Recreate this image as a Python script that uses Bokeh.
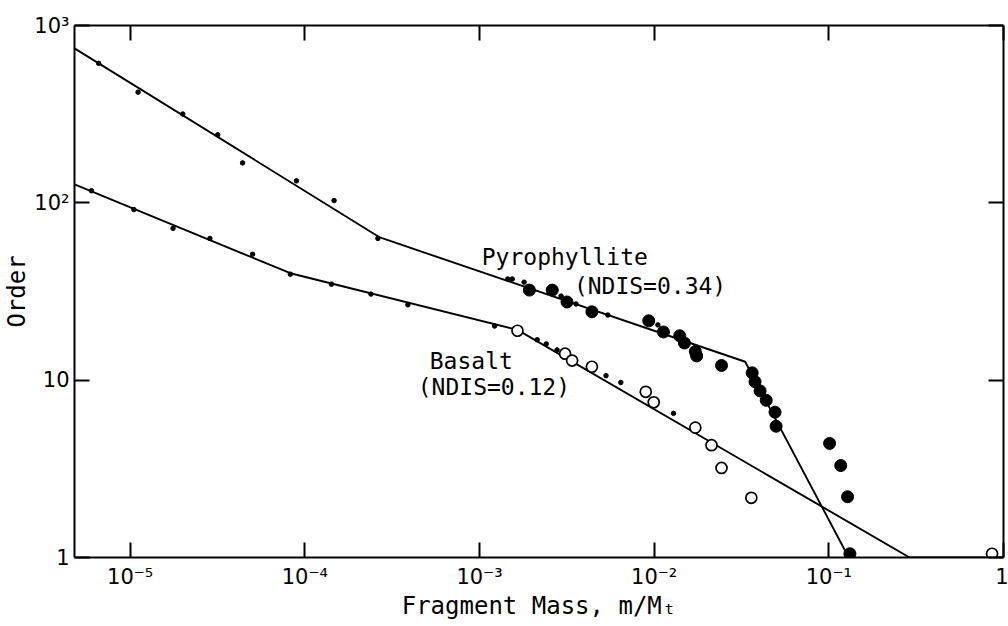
from bokeh.plotting import figure
from bokeh.models import LogAxis, FixedTicker, CustomJSTickFormatter, Label, Range1d
from bokeh.embed import file_html
from bokeh.resources import INLINE

# ---------------- data ----------------
x_ticks = [1e-5, 1e-4, 1e-3, 1e-2, 1e-1, 1.0]
x_tick_labels = ["10⁻⁵", "10⁻⁴", "10⁻³", "10⁻²", "10⁻¹", "1"]
y_ticks = [1, 10, 100, 1000]
y_tick_labels = ["1", "10", "10²", "10³"]

# Pyrophyllite: small dots
pyro_small_x = [6.6e-6, 1.11e-5, 2.0e-5, 3.17e-5, 4.4e-5, 8.95e-5, 1.47e-4, 2.62e-4,
                1.45e-3, 1.54e-3, 1.80e-3, 2.93e-3, 3.57e-3, 5.43e-3, 1.05e-2]
pyro_small_y = [612, 421, 317, 242, 168, 133, 103, 63,
                37.2, 37.2, 35.7, 29.8, 26.9, 23.3, 20.5]
# Pyrophyllite: large filled dots
pyro_big_x = [1.93e-3, 2.61e-3, 3.17e-3, 4.40e-3, 9.31e-3, 1.13e-2, 1.40e-2, 1.49e-2,
              1.72e-2, 1.75e-2, 2.43e-2, 3.64e-2, 3.78e-2, 4.04e-2, 4.38e-2, 4.92e-2,
              4.99e-2, 0.101, 0.117, 0.128, 0.132]
pyro_big_y = [32.2, 32.2, 27.6, 24.3, 21.6, 18.7, 17.8, 16.2,
              14.5, 13.7, 12.1, 11.0, 9.8, 8.7, 7.7, 6.6,
              5.5, 4.4, 3.3, 2.2, 1.05]
# Pyrophyllite fitted broken line
pyro_fit_x = [4.8e-6, 2.69e-4, 3.32e-2, 0.130]
pyro_fit_y = [743, 63.8, 12.7, 1.0]

# Basalt: small dots
bas_small_x = [6.0e-6, 1.05e-5, 1.76e-5, 2.86e-5, 5.02e-5, 8.26e-5, 1.42e-4, 2.39e-4,
               3.89e-4, 1.22e-3, 2.14e-3, 2.41e-3, 2.78e-3, 5.30e-3, 6.44e-3, 1.29e-2]
bas_small_y = [117, 91.6, 71.8, 63, 51.3, 39.6, 34.8, 30.6,
               26.6, 20.2, 16.9, 16.0, 14.8, 10.6, 9.7, 6.5]
# Basalt: open circles
bas_open_x = [1.65e-3, 3.09e-3, 3.39e-3, 4.40e-3, 8.95e-3, 9.94e-3, 1.72e-2, 2.13e-2,
              2.43e-2, 3.60e-2, 0.86]
bas_open_y = [19.0, 14.1, 12.9, 11.9, 8.6, 7.5, 5.4, 4.3,
              3.2, 2.17, 1.05]
# Basalt fitted broken line
bas_fit_x = [4.8e-6, 8.26e-5, 1.65e-3, 0.29, 1.0]
bas_fit_y = [127, 40.1, 19.2, 1.0, 1.0]

FONT = "DejaVu Sans"
MONO = "DejaVu Sans Mono"

p = figure(width=1008, height=624, x_axis_type="log", y_axis_type="log",
           x_range=Range1d(4.8e-6, 1.0), y_range=Range1d(1, 1000),
           output_backend="svg", toolbar_location=None,
           min_border_left=73, min_border_right=5, min_border_top=25, min_border_bottom=67,
           background_fill_color="white", border_fill_color="white")
p.outline_line_color = None
p.grid.visible = False

fmt_js = """
const e = Math.round(Math.log10(tick));
const i = e - off;
return (i >= 0 && i < labels.length) ? labels[i] : "";
"""

xa = p.xaxis[0]
xa.ticker = FixedTicker(ticks=x_ticks)
xa.formatter = CustomJSTickFormatter(args=dict(labels=x_tick_labels, off=-5), code=fmt_js)
ya = p.yaxis[0]
ya.ticker = FixedTicker(ticks=y_ticks)
ya.formatter = CustomJSTickFormatter(args=dict(labels=y_tick_labels, off=0), code=fmt_js)

for ax in (xa, ya):
    ax.axis_line_width = 2
    ax.axis_line_color = "black"
    ax.major_tick_in = 15
    ax.major_tick_out = 0
    ax.major_tick_line_width = 2
    ax.major_tick_line_color = "black"
    ax.minor_tick_line_color = None
    ax.major_label_text_font = FONT
    ax.major_label_text_font_size = "21px"
    ax.major_label_text_color = "black"
    ax.axis_label_text_font = MONO
    ax.axis_label_text_font_size = "24px"
    ax.axis_label_text_font_style = "normal"
    ax.axis_label_text_color = "black"

xa.axis_label = "Fragment Mass, m/Mₜ"
xa.major_label_standoff = 7
xa.axis_label_standoff = 0
ya.axis_label = "Order"
ya.major_label_standoff = 5
ya.axis_label_standoff = 0

# frame axes on top and right: ticks only
empty = CustomJSTickFormatter(code="return '';")
top = LogAxis(ticker=FixedTicker(ticks=x_ticks), formatter=empty)
right = LogAxis(ticker=FixedTicker(ticks=y_ticks), formatter=empty)
for ax in (top, right):
    ax.axis_line_width = 2
    ax.axis_line_color = "black"
    ax.major_tick_in = 15
    ax.major_tick_out = 0
    ax.major_tick_line_width = 2
    ax.major_tick_line_color = "black"
    ax.minor_tick_line_color = None
    ax.major_label_text_font_size = "0px"
    ax.major_label_standoff = 0
    ax.axis_label_standoff = 0
p.add_layout(top, "above")
p.add_layout(right, "right")

# fitted lines
p.line(pyro_fit_x, pyro_fit_y, line_color="black", line_width=1.9)
p.line(bas_fit_x, bas_fit_y, line_color="black", line_width=1.9)

# points
p.scatter(pyro_small_x, pyro_small_y, size=4.5, color="black")
p.scatter(bas_small_x, bas_small_y, size=4.5, color="black")
p.scatter(pyro_big_x, pyro_big_y, size=12, color="black")
p.scatter(bas_open_x, bas_open_y, size=11, fill_color="white", line_color="black", line_width=1.7)

# annotations
def note(x, y, t):
    p.add_layout(Label(x=x, y=y, text=t, text_font=MONO, text_font_size="23px",
                       text_color="black", text_baseline="middle", text_align="left"))

note(1.03e-3, 49.3, "Pyrophyllite")
note(3.47e-3, 34.0, "(NDIS=0.34)")
note(5.19e-4, 12.9, "Basalt")
note(4.43e-4, 9.2, "(NDIS=0.12)")

open("out.html", "w").write(file_html(p, INLINE))
